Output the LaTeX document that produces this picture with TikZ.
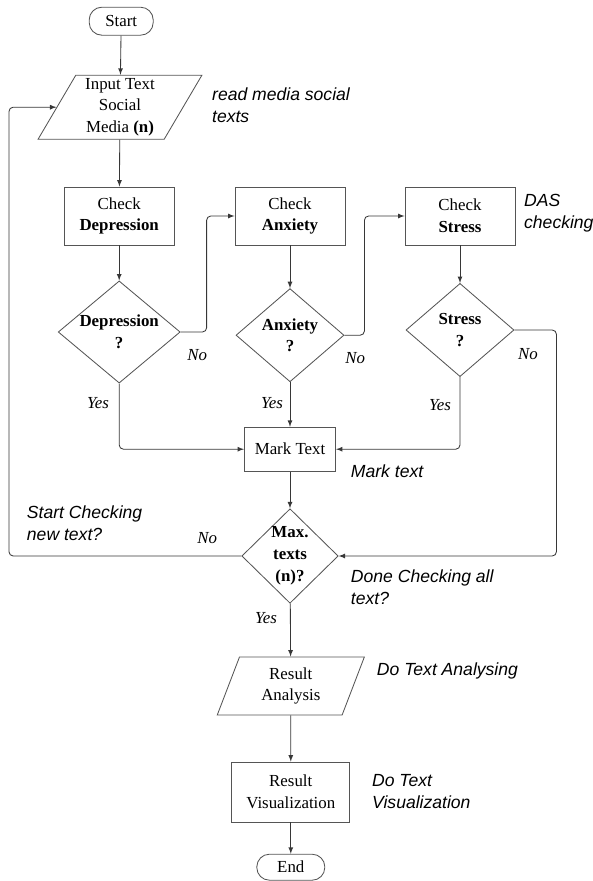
\documentclass[tikz,border=0pt]{standalone}
\usepackage{fontspec}
\setmainfont{Liberation Serif}
\newfontfamily\notefont{Liberation Sans}
\usetikzlibrary{arrows,shapes.geometric}
\definecolor{LineClr}{RGB}{55,55,55}
\definecolor{BoxClr}{RGB}{85,85,85}

\begin{document}
\begin{tikzpicture}[
  font=\fontsize{12}{15.5}\selectfont,
  every node/.style={align=center},
  term/.style={draw=BoxClr,line width=0.6pt,rounded corners=9pt,minimum width=1.6cm,minimum height=0.7cm,inner sep=1pt},
  io/.style={draw=BoxClr,line width=0.6pt,trapezium,trapezium left angle=63,trapezium right angle=117,trapezium stretches=true,minimum width=4.1cm,minimum height=1.6cm,inner sep=0pt},
  proc/.style={draw=BoxClr,line width=0.6pt,rectangle,minimum width=2.75cm,minimum height=1.45cm,inner sep=1pt},
  decision/.style={draw=BoxClr,line width=0.6pt,diamond,aspect=1.16,inner sep=0pt,minimum width=2.7cm,minimum height=2.33cm,font=\fontsize{12}{15.5}\selectfont\bfseries},
  note/.style={anchor=west,align=left,font=\fontsize{12.5}{15.5}\selectfont\notefont\itshape},
  answer/.style={font=\fontsize{12}{15}\selectfont\itshape},
  flow/.style={draw=LineClr,line width=0.6pt,-latex,rounded corners=3pt}
]
\useasboundingbox (0,0) rectangle (14.8,-22.025);

\node[term] (start) at (3.03,-0.53) {Start};
\node[io] (in) at (3.0,-2.68) {Input Text\\Social\\Media \textbf{(n)}};

\node[proc] (cd) at (2.98,-5.4) {Check\\\textbf{Depression}};
\node[proc] (ca) at (7.25,-5.4) {Check\\\textbf{Anxiety}};
\node[proc] (cs) at (11.5,-5.4) {Check\\\textbf{Stress}};

\node[decision,minimum width=3.05cm,minimum height=2.48cm] (dd) at (2.98,-8.3) {Depression\\?};
\node[decision] (da) at (7.25,-8.38) {Anxiety\\?};
\node[decision] (ds) at (11.5,-8.25) {Stress\\?};

\node[proc,minimum width=2.28cm,minimum height=1.1cm] (mt) at (7.25,-11.23) {Mark Text};
\node[decision,aspect=1.02,minimum width=2.38cm,minimum height=2.33cm] (mx) at (7.25,-13.9) {Max.\\texts\\(n)?};

\node[io,trapezium left angle=71,trapezium right angle=109,minimum width=3.68cm,minimum height=1.45cm] (ra) at (7.27,-17.15) {Result\\Analysis};
\node[proc,minimum width=2.95cm,minimum height=1.5cm] (rv) at (7.27,-19.8) {Result\\Visualization};
\node[term,minimum width=1.7cm,minimum height=0.65cm] (end) at (7.27,-21.68) {End};

\draw[flow] (start) -- (in);
\draw[flow] (in) -- (cd);
\draw[flow] (cd) -- (dd);
\draw[flow] (ca) -- (da);
\draw[flow] (cs) -- (ds);
\draw[flow] (dd.east) -- ++(0.65,0) |- (ca.west);
\draw[flow] (da.east) -- ++(0.5,0) |- (cs.west);
\draw[flow] (ds.east) -- ++(1.05,0) |- (mx.east);
\draw[flow] (dd.south) |- (mt.west);
\draw[flow] (da.south) -- (da.south|-mt.north);
\draw[flow] (ds.south) |- (mt.east);
\draw[flow] (mt) -- (mx);
\draw[flow] (mx.west) -- ++(-5.81,0) |- (in.west);
\draw[flow] (mx) -- (ra);
\draw[flow] (ra) -- (rv);
\draw[flow] (rv) -- (end);

\node[note] (n1) at (5.18,-2.63) {read media social\\texts};
\node[note] (n2) at (12.98,-5.33) {DAS\\checking};
\node[note] (n3) at (8.65,-11.78) {Mark text};
\node[note] (n4) at (0.55,-13.08) {Start Checking\\new text?};
\node[note] (n5) at (8.65,-14.68) {Done Checking all\\text?};
\node[note] (n6) at (9.3,-16.78) {Do Text Analysing};
\node[note] (n7) at (9.18,-19.78) {Do Text\\Visualization};

\node[answer] (no1) at (4.93,-8.88) {No};
\node[answer] (no2) at (8.88,-8.95) {No};
\node[answer] (no3) at (13.2,-8.85) {No};
\node[answer] (no4) at (5.18,-13.45) {No};
\node[answer] (yes1) at (2.45,-10.08) {Yes};
\node[answer] (yes2) at (6.8,-10.08) {Yes};
\node[answer] (yes3) at (11.0,-10.13) {Yes};
\node[answer] (yes4) at (6.65,-15.45) {Yes};

\end{tikzpicture}
\end{document}
